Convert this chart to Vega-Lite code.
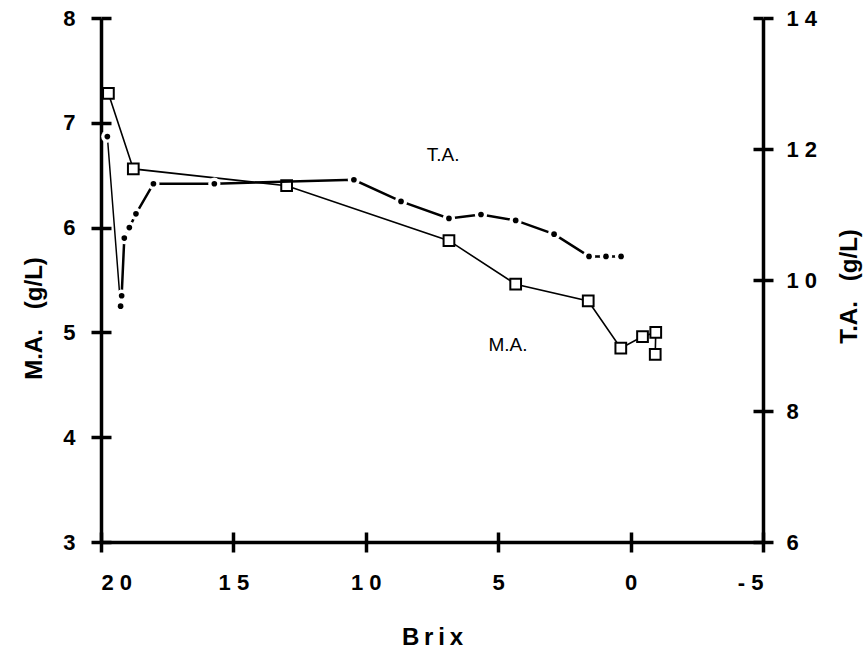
{
  "$schema": "https://vega.github.io/schema/vega-lite/v6.json",
  "width": 662,
  "height": 524,
  "autosize": {"type": "none"},
  "padding": {"left": 101, "top": 18, "right": 104, "bottom": 107},
  "background": "white",
  "view": {"stroke": null},
  "config": {
    "font": "Liberation Sans",
    "axis": {
      "grid": false,
      "domainColor": "black",
      "domainWidth": 3.5,
      "tickColor": "black",
      "tickWidth": 3.5,
      "tickSize": 10,
      "labelColor": "black",
      "labelFont": "Liberation Sans",
      "labelFontWeight": "bold",
      "labelFontSize": 22,
      "titleColor": "black",
      "titleFont": "Liberation Sans",
      "titleFontWeight": "bold",
      "titleFontSize": 24
    }
  },
  "datasets": {
    "ma": [
      {"i": 1, "brix": 19.72, "ma": 7.28},
      {"i": 2, "brix": 18.78, "ma": 6.56},
      {"i": 3, "brix": 12.99, "ma": 6.40},
      {"i": 4, "brix": 6.86, "ma": 5.875},
      {"i": 5, "brix": 4.34, "ma": 5.46},
      {"i": 6, "brix": 1.60, "ma": 5.30},
      {"i": 7, "brix": 0.37, "ma": 4.85},
      {"i": 8, "brix": -0.45, "ma": 4.96},
      {"i": 9, "brix": -0.95, "ma": 5.00},
      {"i": 10, "brix": -0.93, "ma": 4.79}
    ],
    "ta": [
      {"i": 1, "brix": 19.76, "ta": 12.19},
      {"i": 2, "brix": 19.26, "ta": 9.60},
      {"i": 3, "brix": 19.22, "ta": 9.76},
      {"i": 4, "brix": 19.12, "ta": 10.64},
      {"i": 5, "brix": 18.93, "ta": 10.80},
      {"i": 6, "brix": 18.68, "ta": 11.01},
      {"i": 7, "brix": 18.02, "ta": 11.47},
      {"i": 8, "brix": 15.72, "ta": 11.47},
      {"i": 9, "brix": 10.45, "ta": 11.53},
      {"i": 10, "brix": 8.67, "ta": 11.20},
      {"i": 11, "brix": 6.86, "ta": 10.94},
      {"i": 12, "brix": 5.65, "ta": 11.00},
      {"i": 13, "brix": 4.34, "ta": 10.91},
      {"i": 14, "brix": 2.89, "ta": 10.70},
      {"i": 15, "brix": 1.57, "ta": 10.36},
      {"i": 16, "brix": 0.93, "ta": 10.36},
      {"i": 17, "brix": 0.36, "ta": 10.36}
    ],
    "malabel": [{"brix": 4.63, "ma": 4.88, "label": "M.A."}],
    "talabel": [{"brix": 7.08, "ta": 11.91, "label": "T.A."}]
  },
  "layer": [
    {
      "layer": [
        {
          "data": {"name": "ma"},
          "mark": {"type": "line", "color": "black", "strokeWidth": 1.6},
          "encoding": {
            "x": {"field": "brix", "type": "quantitative", "scale": {"domain": [-5, 20], "reverse": true, "nice": false},
              "axis": {"values": [20, 15, 10, 5, 0, -5], "title": "B\u2009r\u2009i\u2009x", "titleY": 95, "titleBaseline": "middle", "labelPadding": 20,
                "labelExpr": "datum.value == 20 ? '2 0' : datum.value == 15 ? '1 5' : datum.value == 10 ? '1 0' : datum.value == -5 ? '-  5' : datum.label"}},
            "y": {"field": "ma", "type": "quantitative", "scale": {"domain": [3, 8], "nice": false, "zero": false},
              "axis": {"orient": "left", "values": [3, 4, 5, 6, 7, 8], "format": "d", "title": "M.A.\u00a0\u00a0\u00a0(g/L)", "labelPadding": 16,
                "titleX": -67, "titleY": 300, "titleAngle": 270, "titleAlign": "center", "titleBaseline": "middle"}},
            "order": {"field": "i", "type": "quantitative"}
          }
        },
        {
          "data": {"name": "ma"},
          "mark": {"type": "square", "size": 115, "filled": true, "fill": "white", "stroke": "black", "strokeWidth": 2, "opacity": 1},
          "encoding": {
            "x": {"field": "brix", "type": "quantitative"},
            "y": {"field": "ma", "type": "quantitative"}
          }
        },
        {
          "data": {"name": "malabel"},
          "mark": {"type": "text", "font": "Liberation Sans", "fontSize": 19, "color": "black", "align": "center", "baseline": "middle"},
          "encoding": {
            "x": {"field": "brix", "type": "quantitative"},
            "y": {"field": "ma", "type": "quantitative"},
            "text": {"field": "label"}
          }
        }
      ]
    },
    {
      "layer": [
        {
          "data": {"name": "ta"},
          "transform": [{"filter": "datum.i >= 3"}],
          "mark": {"type": "line", "color": "black", "strokeWidth": 2.5},
          "encoding": {
            "x": {"field": "brix", "type": "quantitative",
              "axis": {"orient": "bottom", "values": [20, 15, 10, 5, 0, -5], "tickSize": -10, "labels": false, "domain": false, "title": null}},
            "y": {"field": "ta", "type": "quantitative", "scale": {"domain": [6, 14], "nice": false, "zero": false},
              "axis": {"orient": "right", "values": [6, 8, 10, 12, 14], "format": "d", "title": "T.A.\u00a0\u00a0\u00a0(g/L)", "labelPadding": 13,
                "labelExpr": "datum.value == 14 ? '1 4' : datum.value == 12 ? '1 2' : datum.value == 10 ? '1 0' : datum.label",
                "titleX": 86, "titleY": 268, "titleAngle": 270, "titleAlign": "center", "titleBaseline": "middle"}},
            "order": {"field": "i", "type": "quantitative"}
          }
        },
        {
          "data": {"name": "ta"},
          "transform": [{"filter": "datum.i <= 3"}],
          "mark": {"type": "line", "color": "black", "strokeWidth": 1.5},
          "encoding": {
            "x": {"field": "brix", "type": "quantitative"},
            "y": {"field": "ta", "type": "quantitative"},
            "order": {"field": "i", "type": "quantitative"}
          }
        },
        {
          "data": {"name": "ta"},
          "mark": {"type": "circle", "size": 150, "color": "white", "opacity": 1},
          "encoding": {
            "x": {"field": "brix", "type": "quantitative"},
            "y": {"field": "ta", "type": "quantitative"}
          }
        },
        {
          "data": {"name": "ta"},
          "mark": {"type": "circle", "size": 32, "color": "black", "opacity": 1},
          "encoding": {
            "x": {"field": "brix", "type": "quantitative"},
            "y": {"field": "ta", "type": "quantitative"}
          }
        },
        {
          "data": {"name": "talabel"},
          "mark": {"type": "text", "font": "Liberation Sans", "fontSize": 19, "color": "black", "align": "center", "baseline": "middle"},
          "encoding": {
            "x": {"field": "brix", "type": "quantitative"},
            "y": {"field": "ta", "type": "quantitative"},
            "text": {"field": "label"}
          }
        }
      ]
    },
    {
      "data": {"name": "ma"},
      "mark": {"type": "point", "opacity": 0},
      "encoding": {
        "x": {"field": "brix", "type": "quantitative", "axis": null},
        "y": {"field": "ma", "type": "quantitative", "scale": {"domain": [3, 8], "nice": false, "zero": false},
          "axis": {"orient": "left", "values": [3, 4, 5, 6, 7, 8], "tickSize": -10, "labels": false, "domain": false, "title": null}}
      }
    },
    {
      "data": {"name": "ta"},
      "mark": {"type": "point", "opacity": 0},
      "encoding": {
        "x": {"field": "brix", "type": "quantitative", "axis": null},
        "y": {"field": "ta", "type": "quantitative", "scale": {"domain": [6, 14], "nice": false, "zero": false},
          "axis": {"orient": "right", "values": [6, 8, 10, 12, 14], "tickSize": -10, "labels": false, "domain": false, "title": null}}
      }
    }
  ],
  "resolve": {"scale": {"y": "independent"}, "axis": {"x": "independent", "y": "independent"}}
}
